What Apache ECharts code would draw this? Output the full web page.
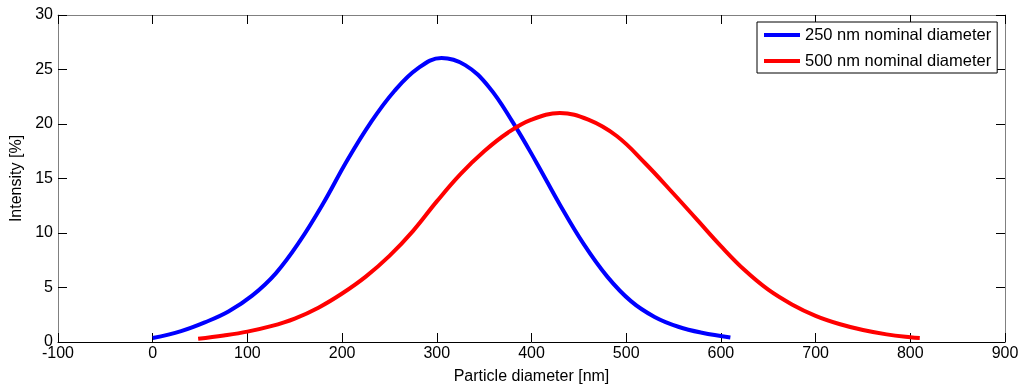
<!DOCTYPE html>
<html>
<head>
<meta charset="utf-8">
<script src="https://cdn.jsdelivr.net/npm/echarts@6/dist/echarts.min.js"></script>
<style>html,body{margin:0;padding:0;background:#fff}#c{width:1022px;height:390px}</style>
</head>
<body>
<div id="c"></div>
<script>
const seriesNames = ['250 nm nominal diameter', '500 nm nominal diameter'];
const blueX = [0, 30, 55, 80, 105, 130, 155, 180, 205, 230, 255, 280, 305, 330, 355, 380, 405, 430, 455, 480, 505, 530, 555, 580, 610];
const blueY = [0.36, 1.0, 1.8, 2.8, 4.25, 6.3, 9.2, 12.7, 16.6, 20.1, 23.0, 25.1, 26.05, 25.4, 23.4, 20.2, 16.5, 12.6, 9.0, 6.0, 3.75, 2.3, 1.4, 0.85, 0.42];
const redX = [48, 75, 100, 125, 150, 175, 200, 225, 250, 275, 300, 325, 350, 375, 400, 430, 460, 490, 520, 550, 575, 600, 625, 650, 675, 700, 725, 750, 775, 800, 810];
const redY = [0.3, 0.6, 0.95, 1.45, 2.15, 3.15, 4.45, 6.0, 7.9, 10.2, 12.9, 15.4, 17.5, 19.2, 20.4, 21.0, 20.4, 18.9, 16.4, 13.6, 11.2, 8.8, 6.6, 4.8, 3.45, 2.4, 1.65, 1.1, 0.7, 0.43, 0.36];
const xTicks = {min: -100, max: 900, interval: 100};
const yTicks = {min: 0, max: 30, interval: 5};
const xName = 'Particle diameter [nm]';
const yName = 'Intensity [%]';

const font = 'Arial, "Liberation Sans", sans-serif';
const pair = (xs, ys) => xs.map((x, i) => [x, ys[i]]);

const chart = echarts.init(document.getElementById('c'), null, {renderer: 'canvas'});
const mkX = (pos, show) => ({
  type: 'value', position: pos, min: xTicks.min, max: xTicks.max, interval: xTicks.interval,
  name: show ? xName : '', nameLocation: 'middle', nameGap: 27,
  nameTextStyle: {color: '#000', fontSize: 16, fontFamily: font},
  axisLine: {show: true, onZero: false, lineStyle: {color: show ? '#000' : '#808080', width: 1}},
  axisTick: {show: true, inside: true, length: 9, lineStyle: {color: '#000'}},
  axisLabel: {show: show, color: '#000', fontSize: 16, fontFamily: font, margin: 4},
  splitLine: {show: false}
});
const mkY = (pos, show) => ({
  type: 'value', position: pos, min: yTicks.min, max: yTicks.max, interval: yTicks.interval,
  name: show ? yName : '', nameLocation: 'middle', nameGap: 31, nameRotate: 90,
  nameTextStyle: {color: '#000', fontSize: 16, fontFamily: font},
  axisLine: {show: true, onZero: false, lineStyle: {color: '#808080', width: 1}},
  axisTick: {show: true, inside: true, length: 9, lineStyle: {color: '#000'}},
  axisLabel: {show: show, color: '#000', fontSize: 16, fontFamily: font, margin: 5},
  splitLine: {show: false}
});

chart.setOption({
  animation: false,
  backgroundColor: '#fff',
  grid: {left: 58, right: 17, top: 15, bottom: 46, containLabel: false},
  xAxis: [mkX('bottom', true), mkX('top', false)],
  yAxis: [mkY('left', true), mkY('right', false)],
  legend: {
    left: 757, top: 22, orient: 'vertical',
    backgroundColor: '#fff', borderColor: '#000', borderWidth: 1,
    padding: [4, 6, 3, 7], itemGap: 8,
    itemWidth: 36, itemHeight: 4, icon: 'rect',
    textStyle: {color: '#000', fontSize: 16.5, fontFamily: font, lineHeight: 18},
    data: seriesNames
  },
  series: [
    {name: seriesNames[0], type: 'line', data: pair(blueX, blueY), smooth: 0.4, showSymbol: false, symbol: 'none',
     itemStyle: {color: '#0000ff'}, lineStyle: {color: '#0000ff', width: 4}, z: 3},
    {name: seriesNames[1], type: 'line', data: pair(redX, redY), smooth: 0.4, showSymbol: false, symbol: 'none',
     itemStyle: {color: '#ff0000'}, lineStyle: {color: '#ff0000', width: 4}, z: 4}
  ]
});
</script>
</body>
</html>
